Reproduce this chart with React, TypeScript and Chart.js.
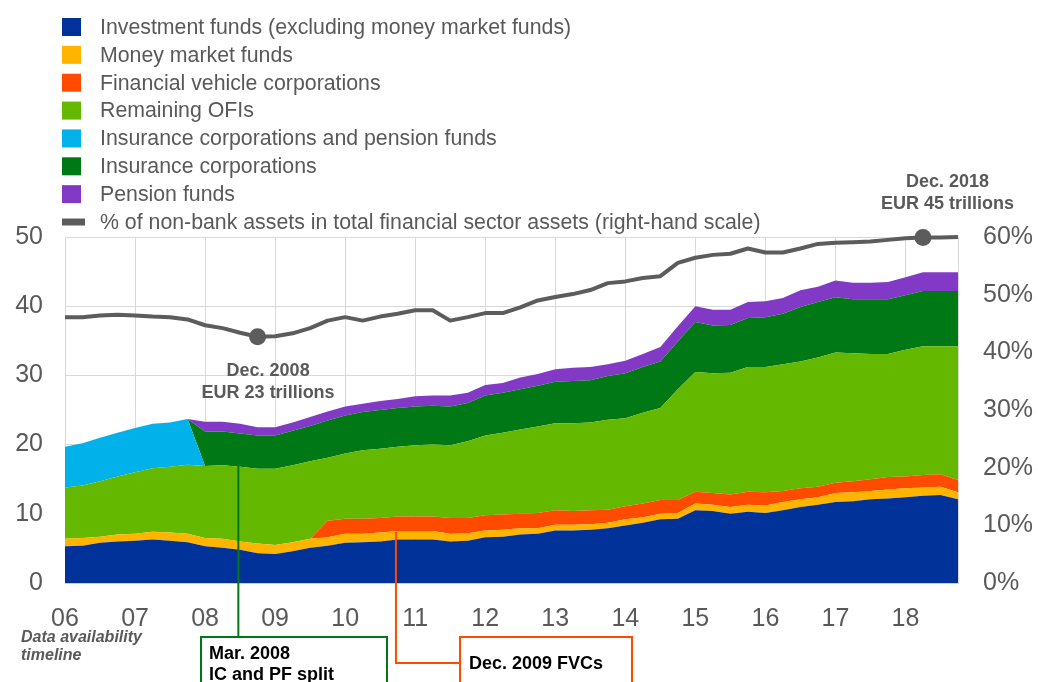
import { useEffect, useRef } from 'react';
import { Chart, registerables } from 'chart.js';

Chart.register(...registerables);

const FONT = '"Liberation Sans", Arial, Helvetica, sans-serif';
const TEXT = '#595959';

// Quarterly observations 2006 Q1 – 2018 Q4 (EUR trillions)
const years = ['2006', '2007', '2008', '2009', '2010', '2011', '2012', '2013', '2014', '2015', '2016', '2017', '2018'];
const quarters = years.flatMap((y) => ['Q1', 'Q2', 'Q3', 'Q4'].map((q) => `${y} ${q}`));
const yearTickLabels = ['06', '07', '08', '09', '10', '11', '12', '13', '14', '15', '16', '17', '18'];

const investmentFunds = [5.3, 5.4, 5.8, 6.0, 6.1, 6.3, 6.1, 5.9, 5.3, 5.1, 4.8, 4.3, 4.2, 4.6, 5.1, 5.4, 5.8, 5.9, 6.0, 6.3, 6.3, 6.3, 6.0, 6.1, 6.6, 6.7, 7.0, 7.1, 7.6, 7.6, 7.7, 7.9, 8.3, 8.7, 9.2, 9.3, 10.5, 10.4, 10.0, 10.3, 10.1, 10.5, 11.0, 11.3, 11.7, 11.8, 12.1, 12.2, 12.4, 12.6, 12.7, 12.1];
const moneyMarketFunds = [1.1, 1.1, 0.9, 1.0, 1.0, 1.1, 1.2, 1.2, 1.2, 1.3, 1.2, 1.4, 1.3, 1.3, 1.3, 1.2, 1.3, 1.2, 1.3, 1.2, 1.2, 1.2, 1.1, 1.1, 1.0, 1.0, 0.9, 0.8, 0.8, 0.8, 0.8, 0.8, 0.9, 0.8, 0.8, 0.8, 1.0, 0.9, 1.0, 1.0, 1.1, 1.2, 1.1, 1.1, 1.3, 1.3, 1.2, 1.3, 1.3, 1.2, 1.2, 1.0];
const financialVehicleCorps = [0, 0, 0, 0, 0, 0, 0, 0, 0, 0, 0, 0, 0, 0, 0, 2.4, 2.2, 2.2, 2.1, 2.1, 2.1, 2.1, 2.3, 2.2, 2.2, 2.2, 2.1, 2.2, 2.1, 2.0, 2.0, 1.9, 1.9, 2.0, 2.0, 1.9, 1.7, 1.7, 1.8, 1.9, 1.9, 1.6, 1.6, 1.5, 1.5, 1.6, 1.7, 1.8, 1.7, 1.8, 1.8, 1.8];
const remainingOFIs = [7.4, 7.6, 8.0, 8.4, 8.9, 9.2, 9.5, 10.0, 10.4, 10.6, 10.8, 10.8, 11.0, 11.1, 11.2, 9.1, 9.4, 9.9, 10.0, 10.1, 10.3, 10.4, 10.5, 11.1, 11.5, 11.8, 12.2, 12.5, 12.6, 12.7, 12.7, 13.0, 12.7, 13.1, 13.3, 16.0, 17.3, 17.3, 17.6, 18.0, 18.1, 18.3, 18.3, 18.7, 18.8, 18.5, 18.1, 17.8, 18.3, 18.6, 18.5, 19.3];
const insuranceAndPension = [5.9, 6.1, 6.3, 6.3, 6.4, 6.4, 6.4, 6.6, 0, 0, 0, 0, 0, 0, 0, 0, 0, 0, 0, 0, 0, 0, 0, 0, 0, 0, 0, 0, 0, 0, 0, 0, 0, 0, 0, 0, 0, 0, 0, 0, 0, 0, 0, 0, 0, 0, 0, 0, 0, 0, 0, 0];
const insuranceCorps = [0, 0, 0, 0, 0, 0, 0, 0, 5.0, 4.9, 4.8, 4.8, 4.8, 5.0, 5.1, 5.4, 5.5, 5.5, 5.6, 5.6, 5.6, 5.6, 5.6, 5.5, 5.8, 5.8, 5.8, 5.9, 6.0, 6.1, 6.1, 6.3, 6.5, 6.6, 6.7, 6.9, 7.2, 6.9, 6.9, 7.1, 7.2, 7.3, 7.9, 8.0, 8.0, 7.8, 7.9, 7.9, 7.9, 8.0, 8.0, 8.0];
const pensionFunds = [0, 0, 0, 0, 0, 0, 0, 0, 1.4, 1.4, 1.4, 1.2, 1.2, 1.2, 1.3, 1.3, 1.3, 1.2, 1.3, 1.3, 1.5, 1.5, 1.6, 1.5, 1.5, 1.4, 1.7, 1.7, 1.8, 1.9, 1.9, 1.7, 1.8, 1.9, 2.1, 2.2, 2.3, 2.3, 2.2, 2.3, 2.3, 2.3, 2.4, 2.2, 2.4, 2.4, 2.4, 2.5, 2.6, 2.7, 2.7, 2.7];
const nonBankShare = [46.1, 46.1, 46.4, 46.5, 46.4, 46.2, 46.1, 45.7, 44.7, 44.2, 43.4, 42.7, 42.8, 43.3, 44.2, 45.5, 46.1, 45.5, 46.2, 46.7, 47.3, 47.3, 45.5, 46.1, 46.8, 46.8, 47.8, 49.0, 49.6, 50.1, 50.8, 52.0, 52.3, 52.9, 53.2, 55.5, 56.4, 56.9, 57.1, 58.0, 57.3, 57.3, 58.0, 58.8, 59.0, 59.1, 59.2, 59.5, 59.8, 59.9, 59.9, 60.0];
const highlightedQuarters = ['2008 Q4', '2018 Q2'];

const seriesLabels = [
  'Investment funds (excluding money market funds)',
  'Money market funds',
  'Financial vehicle corporations',
  'Remaining OFIs',
  'Insurance corporations and pension funds',
  'Insurance corporations',
  'Pension funds',
  '% of non-bank assets in total financial sector assets (right-hand scale)',
];
const seriesColors = ['#003299', '#FFB400', '#FF4B00', '#65B800', '#00B1EA', '#007816', '#8139C6', '#5C5C5C'];
const areaSeries = [investmentFunds, moneyMarketFunds, financialVehicleCorps, remainingOFIs, insuranceAndPension, insuranceCorps, pensionFunds];

const legendPlugin = {
  id: 'verticalLegend',
  afterDraw(chart: any) {
    const ctx = chart.ctx;
    ctx.save();
    ctx.font = `21.3px ${FONT}`;
    ctx.textBaseline = 'middle';
    ctx.textAlign = 'left';
    chart.data.datasets.forEach((ds: any, k: number) => {
      const y = 27 + k * 27.86;
      if (ds.yAxisID === 'y2') {
        ctx.fillStyle = ds.borderColor;
        ctx.fillRect(62, y - 3.5, 23, 7);
      } else {
        ctx.fillStyle = ds.backgroundColor;
        ctx.fillRect(62, y - 9, 19, 18);
      }
      ctx.fillStyle = TEXT;
      ctx.fillText(ds.label, 100, y + 1);
    });
    ctx.restore();
  },
};

const annotationPlugin = {
  id: 'annotations',
  afterDraw(chart: any) {
    const ctx = chart.ctx;
    const x = chart.scales.x;
    ctx.save();
    // Callout labels near highlighted points
    ctx.fillStyle = TEXT;
    ctx.font = `bold 18px ${FONT}`;
    ctx.textAlign = 'center';
    ctx.textBaseline = 'middle';
    const x08 = x.getPixelForValue(11.6);
    ctx.fillText('Dec. 2008', x08, 371);
    ctx.fillText('EUR 23 trillions', x08, 393);
    const x18 = x.getPixelForValue(50.4);
    ctx.fillText('Dec. 2018', x18, 182);
    ctx.fillText('EUR 45 trillions', x18, 204);

    // Data availability timeline
    ctx.textAlign = 'left';
    ctx.font = `italic bold 16px ${FONT}`;
    ctx.fillText('Data availability', 21, 638);
    ctx.fillText('timeline', 21, 656);

    // Green: IC and PF split
    const gx = x.getPixelForValue(9.9);
    ctx.strokeStyle = '#007816';
    ctx.lineWidth = 2;
    ctx.beginPath();
    ctx.moveTo(gx, 452);
    ctx.lineTo(gx, 637);
    ctx.stroke();
    ctx.strokeRect(201, 637, 186, 60);

    // Orange: FVCs
    const ox = x.getPixelForValue(18.9);
    ctx.strokeStyle = '#FF4B00';
    ctx.beginPath();
    ctx.moveTo(ox, 532);
    ctx.lineTo(ox, 663);
    ctx.lineTo(460, 663);
    ctx.stroke();
    ctx.strokeRect(460, 637, 172, 60);

    ctx.fillStyle = '#000000';
    ctx.font = `bold 18px ${FONT}`;
    ctx.fillText('Mar. 2008', 209, 654);
    ctx.fillText('IC and PF split', 209, 675);
    ctx.fillText('Dec. 2009 FVCs', 469, 664);
    ctx.restore();
  },
};

export default function App() {
  const canvasRef = useRef<HTMLCanvasElement | null>(null);

  useEffect(() => {
    if (!canvasRef.current) return;
    const datasets: any[] = areaSeries.map((data, i) => ({
      label: seriesLabels[i],
      data,
      yAxisID: 'y',
      backgroundColor: seriesColors[i],
      borderColor: seriesColors[i],
      borderWidth: 0,
      pointRadius: 0,
      fill: i === 0 ? 'origin' : '-1',
      tension: 0,
      order: 1,
    }));
    datasets.push({
      label: seriesLabels[7],
      data: nonBankShare,
      yAxisID: 'y2',
      borderColor: seriesColors[7],
      backgroundColor: seriesColors[7],
      borderWidth: 4,
      borderJoinStyle: 'round',
      fill: false,
      tension: 0,
      clip: false,
      pointRadius: (c: any) => (highlightedQuarters.includes(quarters[c.dataIndex]) ? 8.5 : 0),
      pointBackgroundColor: seriesColors[7],
      pointBorderWidth: 0,
      order: -1,
    });

    const chart = new Chart(canvasRef.current, {
      type: 'line',
      data: { labels: quarters, datasets },
      options: {
        animation: false,
        responsive: true,
        maintainAspectRatio: false,
        layout: { padding: { top: 237, left: 0, right: 0, bottom: 0 } },
        plugins: { legend: { display: false }, tooltip: { enabled: false } },
        scales: {
          x: {
            type: 'category',
            offset: false,
            grid: {
              color: (c: any) => (c.index % 4 === 0 && c.index < 51 ? '#D9D9D9' : 'rgba(0,0,0,0)'),
              drawTicks: false,
            },
            border: { display: true, color: '#C9CED8' },
            ticks: {
              autoSkip: false,
              maxRotation: 0,
              minRotation: 0,
              padding: 21,
              color: TEXT,
              font: { size: 25, family: FONT },
              callback: (_v: any, i: number) => (i % 4 === 0 ? yearTickLabels[i / 4] : ''),
            },
            afterFit: (s: any) => { s.height = 99; },
          },
          y: {
            stacked: true,
            min: 0,
            max: 50,
            grid: { color: '#D9D9D9', drawTicks: false },
            border: { display: false },
            ticks: { stepSize: 10, padding: 22, color: TEXT, font: { size: 25, family: FONT } },
            afterFit: (s: any) => { s.width = 65; },
          },
          y2: {
            position: 'right',
            stacked: false,
            min: 0,
            max: 60,
            grid: { display: false, drawTicks: false },
            border: { display: true, color: '#D9D9D9' },
            ticks: {
              stepSize: 10,
              padding: 25,
              color: TEXT,
              font: { size: 25, family: FONT },
              callback: (v: any) => `${v}%`,
            },
            afterFit: (s: any) => { s.width = 80; },
          },
        },
      } as any,
      plugins: [legendPlugin, annotationPlugin],
    });
    return () => chart.destroy();
  }, []);

  return (
    <div style={{ position: 'fixed', left: 0, top: 0, width: 1038, height: 682, background: '#ffffff' }}>
      <canvas ref={canvasRef} />
    </div>
  );
}
